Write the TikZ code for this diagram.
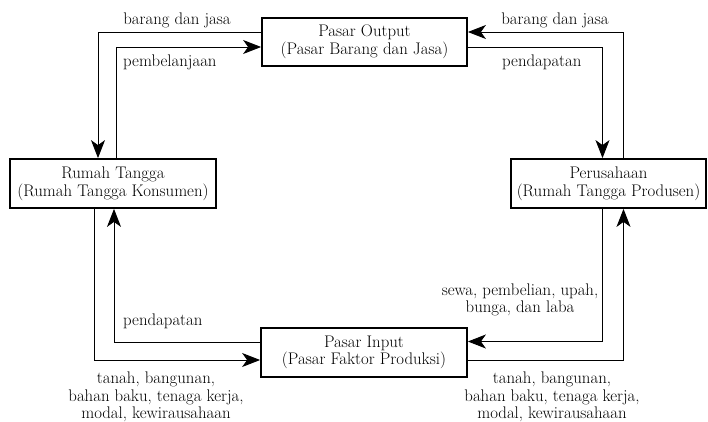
\documentclass[tikz,border=0pt]{standalone}
\usepackage{fontspec}
\setmainfont{Latin Modern Roman}
\usetikzlibrary{arrows.meta}
\begin{document}
\begin{tikzpicture}[x=1pt,y=-1pt,
  font=\fontsize{16.8}{17.6}\selectfont,
  market/.style={draw,line width=1.8pt,align=center,inner sep=0pt},
  flow/.style={line width=0.9pt,-{Stealth[length=18pt,width=14pt,inset=5pt]}},
  lbl/.style={align=center,inner sep=0pt}]
\useasboundingbox (0,0) rectangle (708,422);

% the four sectors of the circular flow
\node[market,minimum width=205pt,minimum height=48pt] (out) at (364.5,42)
  {Pasar Output\\(Pasar Barang dan Jasa)};
\node[market,minimum width=206pt,minimum height=49pt] (rt) at (113,183.5)
  {Rumah Tangga\\(Rumah Tangga Konsumen)};
\node[market,minimum width=195pt,minimum height=49pt] (pr) at (608.5,183.5)
  {Perusahaan\\(Rumah Tangga Produsen)};
\node[market,minimum width=206pt,minimum height=49pt] (inp) at (364,352.5)
  {Pasar Input\\(Pasar Faktor Produksi)};

% flows between households and the output market
\draw[flow] ([yshift=10pt]out.west) -| ([xshift=-15pt]rt.north);
\draw[flow] ([xshift=3pt]rt.north) |- ([yshift=-5pt]out.west);
% flows between firms and the output market
\draw[flow] ([xshift=15pt]pr.north) |- ([yshift=10pt]out.east);
\draw[flow] ([yshift=-5pt]out.east) -| ([xshift=-6pt]pr.north);
% flows between households and the input market
\draw[flow] ([yshift=10.5pt]inp.west) -| ([xshift=1pt]rt.south);
\draw[flow] ([xshift=-19pt]rt.south) |- ([yshift=-7.5pt]inp.west);
% flows between firms and the input market
\draw[flow] ([xshift=-6pt]pr.south) |- ([yshift=11pt]inp.east);
\draw[flow] ([yshift=-7.5pt]inp.east) -| ([xshift=15pt]pr.south);

% flow labels
\node[lbl] (l1) at (177,20) {barang dan jasa};
\node[lbl,anchor=west] (l2) at (123,62) {pembelanjaan};
\node[lbl] (l3) at (555,20) {barang dan jasa};
\node[lbl,anchor=west] (l4) at (502,62) {pendapatan};
\node[lbl,anchor=west] (l5) at (123,321) {pendapatan};
\node[lbl] (l6) at (520,300) {sewa, pembelian, upah,\\bunga, dan laba};
\node[lbl] (l7) at (156,397) {tanah, bangunan,\\bahan baku, tenaga kerja,\\modal, kewirausahaan};
\node[lbl] (l8) at (552,397) {tanah, bangunan,\\bahan baku, tenaga kerja,\\modal, kewirausahaan};
\end{tikzpicture}
\end{document}
